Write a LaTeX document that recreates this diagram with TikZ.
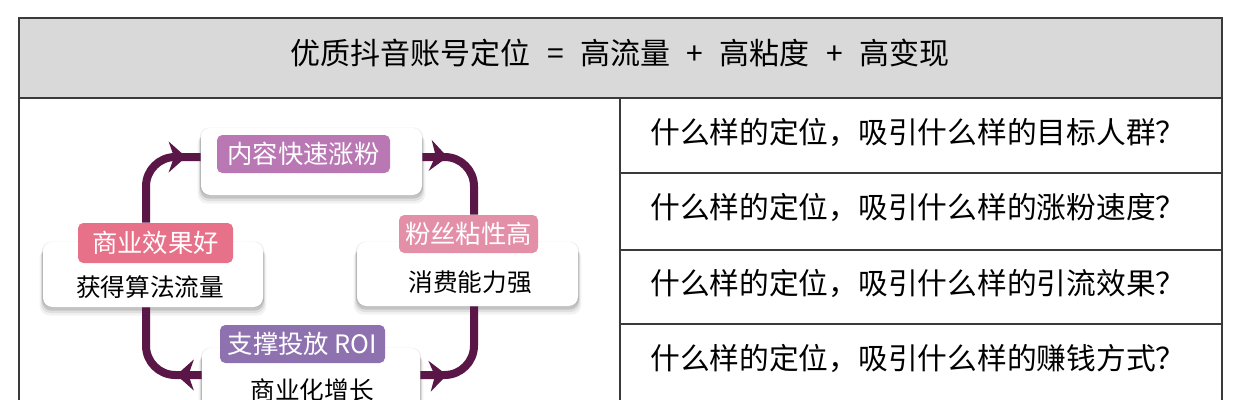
\documentclass[tikz,border=0pt]{standalone}
\usepackage{fontspec}
\setmainfont{Noto Sans CJK SC}
\usetikzlibrary{arrows.meta,shadows,decorations.markings}
\definecolor{frameC}{HTML}{3A3A3A}
\definecolor{headC}{HTML}{D9D9D9}
\definecolor{arrC}{HTML}{5A1646}
\definecolor{topC}{HTML}{B978B4}
\definecolor{leftC}{HTML}{E8718A}
\definecolor{rightC}{HTML}{E48FA8}
\definecolor{botC}{HTML}{8E72B0}
\begin{document}
\begin{tikzpicture}[x=0.75pt,y=-0.75pt,
  card/.style={fill=white, draw=none, rounded corners=7pt, inner sep=0pt,
    general shadow={fill=black, opacity=0.05, shadow yshift=-5.5pt, shadow scale=1.03},
    general shadow={fill=black, opacity=0.08, shadow yshift=-4pt, shadow scale=1.018},
    general shadow={fill=black, opacity=0.12, shadow yshift=-2.5pt, shadow scale=1.008},
    general shadow={fill=black, opacity=0.06, shadow yshift=0pt, shadow scale=1.012}},
  tag/.style={fill=#1, draw=none, rounded corners=4pt, inner sep=0pt, text=white,
    font=\fontsize{19pt}{20pt}\selectfont},
  plain/.style={inner sep=0pt, font=\fontsize{18.5pt}{20pt}\selectfont, text=black},
  rowtext/.style={inner sep=0pt, anchor=west, font=\fontsize{22.3pt}{25pt}\selectfont, text=black},
  gridline/.style={draw=frameC, line width=1pt},
  conn/.style={draw=arrC, line width=6pt, rounded corners=22pt},
  tipat/.style={postaction={decorate, decoration={markings,
    mark=at position #1 with {\arrow{Stealth[length=13pt,width=23pt,inset=4pt]}}}}}
]
\useasboundingbox (0,0) rectangle (1240,400);
\clip (0,0) rectangle (1240,400);
\fill[white] (0,0) rectangle (1240,400);

% header and table
\fill[headC] (19,18) rectangle (1222,98);
\draw[gridline] (19,18) rectangle (1222,430);
\draw[gridline] (19,98) -- (1222,98);
\draw[gridline] (620,98) -- (620,430);
\draw[gridline] (620,173) -- (1222,173);
\draw[gridline] (620,250) -- (1222,250);
\draw[gridline] (620,324) -- (1222,324);

\node[inner sep=0pt, font=\fontsize{22.5pt}{26pt}\selectfont] (title) at (620,53)
  {优质抖音账号定位\hspace{0.55em}=\hspace{0.55em}高流量\hspace{0.55em}+\hspace{0.55em}高粘度\hspace{0.55em}+\hspace{0.55em}高变现};

\node[rowtext] (r1) at (650,132) {什么样的定位，吸引什么样的目标人群？};
\node[rowtext] (r2) at (650,207) {什么样的定位，吸引什么样的涨粉速度？};
\node[rowtext] (r3) at (650,283) {什么样的定位，吸引什么样的引流效果？};
\node[rowtext] (r4) at (650,358) {什么样的定位，吸引什么样的赚钱方式？};

% cards
\node[card, minimum width=165.75pt, minimum height=50.25pt] (tbox) at (311.5,161.5) {};
\node[card, minimum width=165pt, minimum height=48.75pt] (lbox) at (153,274.5) {};
\node[card, minimum width=165.75pt, minimum height=48pt] (rbox) at (467.5,274) {};
\node[card, minimum width=163.5pt, minimum height=54pt] (bbox) at (311,384) {};

% tags
\node[tag=topC, minimum width=129.75pt, minimum height=28.5pt] (tlab) at (303.5,154) {内容快速涨粉};
\node[tag=leftC, minimum width=116.25pt, minimum height=30pt] (llab) at (155.5,243) {商业效果好};
\node[tag=rightC, minimum width=104.25pt, minimum height=28.5pt] (rlab) at (468.5,234) {粉丝粘性高};
\node[tag=botC, minimum width=123.75pt, minimum height=28.5pt] (blab) at (302.5,344) {支撑投放 ROI};

% texts
\node[plain] (ltxt) at (150,287) {获得算法流量};
\node[plain] (rtxt) at (470,282) {消费能力强};
\node[plain] (btxt) at (312,390) {商业化增长};

% connector guides
\coordinate (xl) at (146,0);
\coordinate (xr) at (474,0);
\coordinate (yt) at (0,157);
\coordinate (yb) at (0,375);

\draw[conn, tipat=-11pt] (llab.north -| xl) |- (tbox.west |- yt);
\draw[conn, tipat=19pt] (tbox.east |- yt) -| (rlab.north -| xr);
\draw[conn, tipat=20pt] (bbox.east |- yb) -| (rbox.south -| xr);
\draw[conn, tipat=19pt] (bbox.west |- yb) -| (lbox.south -| xl);
\end{tikzpicture}
\end{document}
